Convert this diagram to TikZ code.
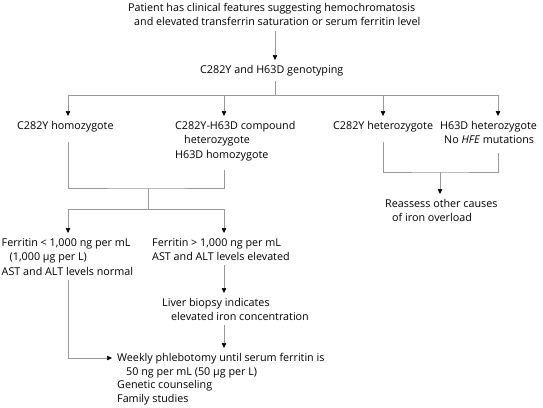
\documentclass[tikz,border=0pt]{standalone}
\usepackage{fontspec}
\setmainfont{Open Sans}
\usetikzlibrary{arrows.meta,calc}

\newlength\patlen

\begin{document}
% fit the text size to the width of the first line
\settowidth\patlen{\fontsize{10}{12}\selectfont Patient has clinical features suggesting hemochromatosis}
\pgfmathsetmacro\fsz{10*287/\patlen}
\begin{tikzpicture}[x=1pt, y=-1pt,
    txt/.style={anchor=north west, inner sep=0pt, align=left, font=\fontsize{\fsz}{14.5}\selectfont},
    wire/.style={draw=black!40, line width=0.6pt},
    arr/.style={wire, -{Triangle[length=5pt,width=4.5pt,color=black]}, shorten >=5pt}]

    \useasboundingbox (0,0) rectangle (543,407);

    % texts
    \node[txt] (patient) at (128,3) {Patient has clinical features suggesting hemochromatosis\\\hspace{6pt}and elevated transferrin saturation or serum ferritin level};
    \node[txt] (geno) at (200,65) {C282Y and H63D genotyping};
    \node[txt] (homo) at (17,121) {C282Y homozygote};
    \node[txt] (comp) at (175,121) {C282Y-H63D compound\\\hspace{9pt}heterozygote\\H63D homozygote};
    \node[txt] (het) at (333,121) {C282Y heterozygote};
    \node[txt] (hfe) at (440,121) {H63D heterozygote\\\hspace{4pt}No \textit{HFE} mutations};
    \node[txt] (reassess) at (385,199) {Reassess other causes\\\hspace{7pt}of iron overload};
    \node[txt] (low) at (1.5,238) {Ferritin < 1,000 ng per mL\\\hspace{8pt}(1,000 µg per L)\\AST and ALT levels normal};
    \node[txt] (high) at (152,238) {Ferritin > 1,000 ng per mL\\AST and ALT levels elevated};
    \node[txt] (biopsy) at (162,298) {Liver biopsy indicates\\\hspace{9pt}elevated iron concentration};
    \node[txt, font=\fontsize{\fsz}{13.6}\selectfont] (phleb) at (117,353) {Weekly phlebotomy until serum ferritin is\\\hspace{9pt}50 ng per mL (50 µg per L)\\Genetic counseling\\Family studies};

    % junctions and columns
    \coordinate (bus) at (275,95);
    \coordinate (join) at (148,188);
    \coordinate (bus2) at (148,209);
    \coordinate (join2) at (440,172);
    \coordinate (colA) at ([xshift=51pt]homo.north west);
    \coordinate (colB) at ([xshift=49pt]comp.north west);
    \coordinate (colC) at ([xshift=50pt]het.north west);
    \coordinate (colD) at ([xshift=58pt]hfe.north west);
    \coordinate (trunk) at ([xshift=72pt]high.north west);
    \coordinate (left) at ([xshift=66.5pt]low.north west);

    % connectors
    \draw[arr] ([yshift=-5pt]patient.south -| bus) -- (bus |- geno.north);
    \draw[wire] ([yshift=-5pt]geno.south -| bus) -- (bus);
    \draw[arr] (bus) -| (colA);
    \draw[arr] (bus) -| (colB);
    \draw[arr] (bus) -| (colC);
    \draw[arr] (bus) -| (colD);

    \draw[wire] ([yshift=-10pt]homo.south -| colA) |- (join) -| ([yshift=-9pt]comp.south -| colB);
    \draw[wire] (join) -- (bus2);
    \draw[arr] (bus2) -| (left);
    \draw[arr] (bus2) -| (trunk);

    \draw[wire] ([yshift=-10pt]het.south -| colC) |- (join2) -| ([yshift=-9pt]hfe.south -| colD);
    \draw[arr] (join2) -- (join2 |- reassess.north);

    \draw[arr] ([yshift=-4pt]high.south -| trunk) -- (trunk |- biopsy.north);
    \draw[arr] ([yshift=-4pt]biopsy.south -| trunk) -- (trunk |- phleb.north);
    \draw[arr] ([yshift=-5pt]low.south -| left) |- ([yshift=-5pt]phleb.north west);
\end{tikzpicture}
\end{document}
